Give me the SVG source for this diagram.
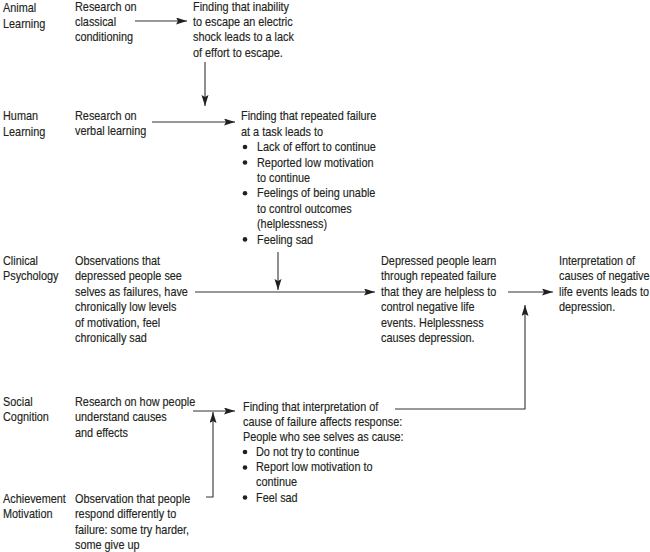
<svg xmlns="http://www.w3.org/2000/svg" width="650" height="552" viewBox="0 0 650 552">
<style>
text{font-family:"Liberation Sans",Arial,sans-serif;font-size:12.5px;fill:#231f20;stroke:#231f20;stroke-width:0.15}
.ln{fill:none;stroke:#333;stroke-width:1.1}
.dot{fill:#231f20}
</style>
<defs>
<marker id="ah" markerUnits="userSpaceOnUse" markerWidth="12" markerHeight="8" refX="11" refY="3.5" orient="auto">
<path d="M0,0 L11,3.5 L0,7 L2,3.5 z" fill="#231f20"/>
</marker>
</defs>
<rect width="650" height="552" fill="#fff"/>
<g id="labels">
<text transform="matrix(0.87 0 0 1 3 0)" y="12.5"><tspan x="0">Animal</tspan><tspan x="0" dy="15.4">Learning</tspan></text>
<text transform="matrix(0.87 0 0 1 3 0)" y="120.5"><tspan x="0">Human</tspan><tspan x="0" dy="15.4">Learning</tspan></text>
<text transform="matrix(0.87 0 0 1 3 0)" y="265"><tspan x="0">Clinical</tspan><tspan x="0" dy="15.4">Psychology</tspan></text>
<text transform="matrix(0.87 0 0 1 3 0)" y="406"><tspan x="0">Social</tspan><tspan x="0" dy="15.4">Cognition</tspan></text>
<text transform="matrix(0.87 0 0 1 3 0)" y="503"><tspan x="0">Achievement</tspan><tspan x="0" dy="15.4">Motivation</tspan></text>
</g>
<g id="classical">
<text transform="matrix(0.87 0 0 1 75 0)" y="10.5"><tspan x="0">Research on</tspan><tspan x="0" dy="15.4">classical</tspan><tspan x="0" dy="15.4">conditioning</tspan></text>
</g>
<g id="finding-animal">
<text transform="matrix(0.87 0 0 1 193 0)" y="10.5"><tspan x="0">Finding that inability</tspan><tspan x="0" dy="15.4">to escape an electric</tspan><tspan x="0" dy="15.4">shock leads to a lack</tspan><tspan x="0" dy="15.4">of effort to escape.</tspan></text>
</g>
<g id="verbal">
<text transform="matrix(0.87 0 0 1 75 0)" y="120.5"><tspan x="0">Research on</tspan><tspan x="0" dy="15">verbal learning</tspan></text>
</g>
<g id="finding-human">
<text transform="matrix(0.87 0 0 1 241 0)" y="120.5"><tspan x="0">Finding that repeated failure</tspan><tspan x="0" dy="15.4">at a task leads to</tspan></text>
<circle class="dot" cx="245" cy="147" r="2.3"/>
<circle class="dot" cx="245" cy="162.5" r="2.3"/>
<circle class="dot" cx="245" cy="193.2" r="2.3"/>
<circle class="dot" cx="245" cy="239.4" r="2.3"/>
<text transform="matrix(0.87 0 0 1 257 0)" y="151.3"><tspan x="0">Lack of effort to continue</tspan><tspan x="0" dy="15.4">Reported low motivation</tspan><tspan x="0" dy="15.4">to continue</tspan><tspan x="0" dy="15.4">Feelings of being unable</tspan><tspan x="0" dy="15.4">to control outcomes</tspan><tspan x="0" dy="15.4">(helplessness)</tspan><tspan x="0" dy="15.4">Feeling sad</tspan></text>
</g>
<g id="observations">
<text transform="matrix(0.87 0 0 1 75 0)" y="265"><tspan x="0">Observations that</tspan><tspan x="0" dy="15.4">depressed people see</tspan><tspan x="0" dy="15.4">selves as failures, have</tspan><tspan x="0" dy="15.4">chronically low levels</tspan><tspan x="0" dy="15.4">of motivation, feel</tspan><tspan x="0" dy="15.4">chronically sad</tspan></text>
</g>
<g id="depressed">
<text transform="matrix(0.87 0 0 1 381 0)" y="265"><tspan x="0">Depressed people learn</tspan><tspan x="0" dy="15.4">through repeated failure</tspan><tspan x="0" dy="15.4">that they are helpless to</tspan><tspan x="0" dy="15.4">control negative life</tspan><tspan x="0" dy="15.4">events. Helplessness</tspan><tspan x="0" dy="15.4">causes depression.</tspan></text>
</g>
<g id="interpretation">
<text transform="matrix(0.87 0 0 1 559 0)" y="265"><tspan x="0">Interpretation of</tspan><tspan x="0" dy="15.4">causes of negative</tspan><tspan x="0" dy="15.4">life events leads to</tspan><tspan x="0" dy="15.4">depression.</tspan></text>
</g>
<g id="social-research">
<text transform="matrix(0.87 0 0 1 75 0)" y="406"><tspan x="0">Research on how people</tspan><tspan x="0" dy="15.4">understand causes</tspan><tspan x="0" dy="15.4">and effects</tspan></text>
</g>
<g id="finding-social">
<text transform="matrix(0.87 0 0 1 243 0)" y="411"><tspan x="0">Finding that interpretation of</tspan><tspan x="0" dy="15.1">cause of failure affects response:</tspan><tspan x="0" dy="15.1">People who see selves as cause:</tspan></text>
<circle class="dot" cx="245" cy="452" r="2.3"/>
<circle class="dot" cx="245" cy="467.5" r="2.3"/>
<circle class="dot" cx="245" cy="497.5" r="2.3"/>
<text transform="matrix(0.87 0 0 1 256 0)" y="456.3"><tspan x="0">Do not try to continue</tspan><tspan x="0" dy="15.1">Report low motivation to</tspan><tspan x="0" dy="15.1">continue</tspan><tspan x="0" dy="15.1">Feel sad</tspan></text>
</g>
<g id="achievement">
<text transform="matrix(0.87 0 0 1 75 0)" y="503"><tspan x="0">Observation that people</tspan><tspan x="0" dy="15.4">respond differently to</tspan><tspan x="0" dy="15.4">failure: some try harder,</tspan><tspan x="0" dy="15.4">some give up</tspan></text>
</g>
<g id="connectors">
<path class="ln" d="M135,21 H187" marker-end="url(#ah)"/>
<path class="ln" d="M205,62 V106" marker-end="url(#ah)"/>
<path class="ln" d="M152,122 H235" marker-end="url(#ah)"/>
<path class="ln" d="M278,252 V290" marker-end="url(#ah)"/>
<path class="ln" d="M195,292 H375" marker-end="url(#ah)"/>
<path class="ln" d="M508,292 H553" marker-end="url(#ah)"/>
<path class="ln" d="M395,409 H525 V305" marker-end="url(#ah)"/>
<path class="ln" d="M193,411 H235" marker-end="url(#ah)"/>
<path class="ln" d="M206,497 H213 V412" marker-end="url(#ah)"/>
</g>
</svg>
